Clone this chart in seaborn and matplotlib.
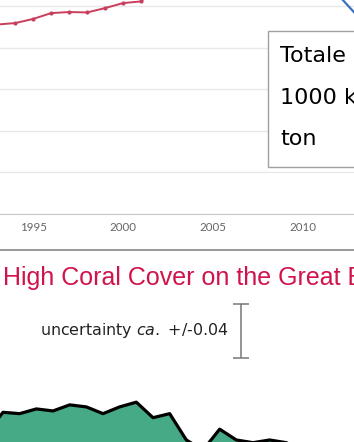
import matplotlib
matplotlib.use("Agg")
import matplotlib.pyplot as plt
import seaborn as sns
import pandas as pd
from matplotlib.patches import Rectangle
from matplotlib.lines import Line2D

# top panel (only a slice of it is visible)
red_years = [1992, 1993, 1994, 1995, 1996, 1997, 1998, 1999, 2000, 2001, 2002]
red_values = [905, 911, 918, 938, 966, 971, 969, 990, 1014, 1022, 1100]
blue_years = [2011, 2012, 2013]
blue_values = [1150, 1052, 958]
grid_values = [0, 200, 400, 600, 800, 1000]
year_ticks = [1995, 2000, 2005, 2010]
box_lines = ["Totale utslipp,", "1000 kilo", "ton"]

# bottom panel: coral cover
coral_years = list(range(1985, 2008))
coral_values = [0.262, 0.294, 0.292, 0.299, 0.296, 0.305, 0.302, 0.292, 0.302, 0.309,
                0.286, 0.292, 0.253, 0.238, 0.269, 0.253, 0.249, 0.253, 0.249, 0.238,
                0.231, 0.236, 0.230]
uncert = 0.04

W, H = 354, 442
sns.set_style("white")
plt.rcParams['mathtext.fontset'] = 'custom'
plt.rcParams['mathtext.it'] = 'DejaVu Sans:italic'
plt.rcParams['mathtext.rm'] = 'DejaVu Sans'

fig = plt.figure(figsize=(W / 100, H / 100), dpi=100)

# ---- top chart
ax1 = fig.add_axes([0, (H - 214) / H, 1, 249.6 / H])
red = pd.DataFrame({"year": red_years, "val": red_values})
blue = pd.DataFrame({"year": blue_years, "val": blue_values})
sns.lineplot(data=red, x="year", y="val", color="#c93d5d", lw=1.4, marker="o",
             markersize=3, markeredgewidth=0, ax=ax1, zorder=3)
sns.lineplot(data=blue, x="year", y="val", color="#3a72bd", lw=1.6, ax=ax1, zorder=3)
ax1.set_xlim(1993.145, 2012.87)
ax1.set_ylim(0, 1200)
ax1.set_yticks(grid_values)
ax1.set_yticklabels([])
ax1.tick_params(axis="y", length=0)
ax1.grid(axis="y", color="#e8e8e8", lw=1)
ax1.set_xticks(year_ticks)
ax1.set_xticklabels([str(y) for y in year_ticks], family="Lato", fontsize=8.3, color="#666666")
ax1.tick_params(axis="x", length=4, width=0.8, color="#bbbbbb", pad=2, direction="out")
for s in ["top", "left", "right"]:
    ax1.spines[s].set_visible(False)
ax1.spines["bottom"].set_color("#c8c8c8")
ax1.set_xlabel("")
ax1.set_ylabel("")

# text box over the chart
fig.add_artist(Rectangle((268 / W, (H - 167) / H), 0.5, 136 / H, transform=fig.transFigure,
                         facecolor="white", edgecolor="#a0a0a0", lw=1, zorder=5))
for line, base in zip(box_lines, [62, 104, 145]):
    fig.text(280 / W, (H - base) / H, line, family="DejaVu Sans", fontsize=16,
             color="black", va="baseline", ha="left", zorder=6)

# separator
fig.add_artist(Line2D([0, 1], [(H - 250) / H] * 2, transform=fig.transFigure,
                      color="#888888", lw=1.2))

# ---- bottom chart
ax2 = fig.add_axes([0, 0, 1, 190 / H])
ax2.set_xlim(1985.82, 2007.06)
ax2.set_ylim(0.25, 0.25 + 190 / 675)
ax2.fill_between(coral_years, coral_values, 0, color="#47aa86", lw=0, zorder=2)
cdf = pd.DataFrame({"year": coral_years, "cover": coral_values})
sns.lineplot(data=cdf, x="year", y="cover", color="black", lw=2.3, ax=ax2, zorder=3)
ax2.errorbar([2000.28], [0.4144], yerr=uncert, color="#777777", lw=1.1,
             capsize=5.5, capthick=1.1)
ax2.axis("off")

fig.text(3 / W, (H - 285) / H, "High Coral Cover on the Great Barrier Reef",
         family="Liberation Sans", fontsize=18, color="#d0144b", va="baseline", ha="left")
fig.text(229 / W, (H - 335) / H, r"uncertainty $\it{ca.}$ +/-0.04",
         family="DejaVu Sans", fontsize=11.4, color="#222222", va="baseline", ha="right")

fig.savefig("out.png", dpi=100)
